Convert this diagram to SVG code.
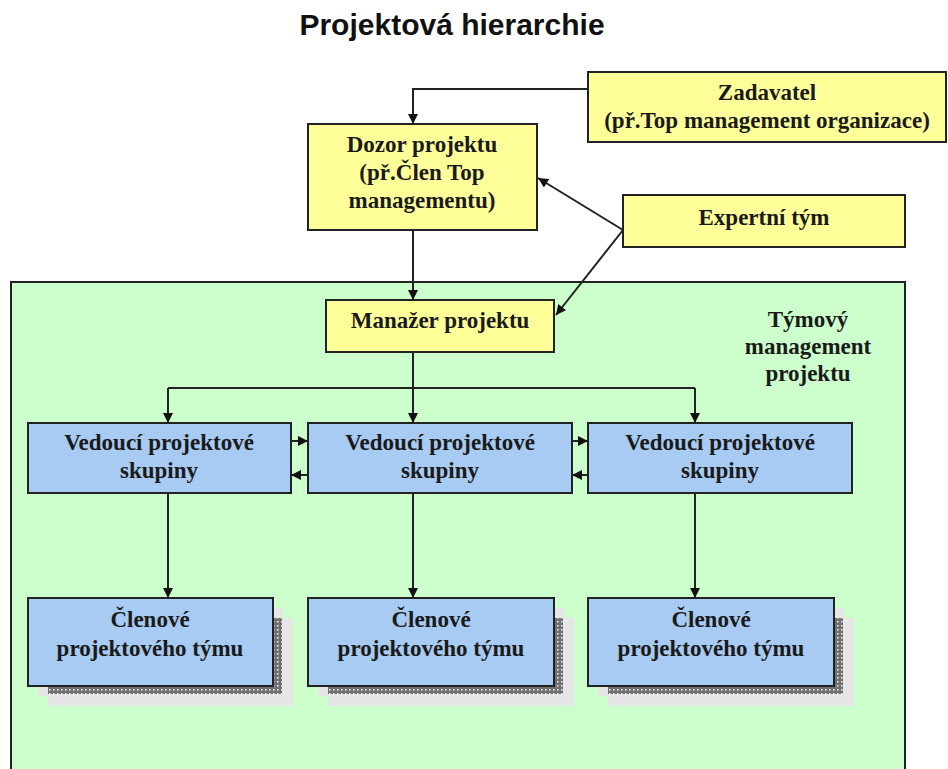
<svg xmlns="http://www.w3.org/2000/svg" width="948" height="769" viewBox="0 0 948 769">
<style>
.t{font-family:"Liberation Serif","Times New Roman",serif;font-weight:bold;font-size:23px;fill:#1a1a1a;text-anchor:middle}
.y{fill:#FFFF99;stroke:#222;stroke-width:2}
.b{fill:#A7CBF2;stroke:#222;stroke-width:2}
.sh{fill:#E6E6E6}
.dk{fill:url(#dots)}
.c{fill:none;stroke:#222;stroke-width:2}
.ca{fill:none;stroke:#222;stroke-width:2;marker-end:url(#ah)}
</style>
<defs>
<marker id="ah" viewBox="0 0 10 10" refX="10" refY="5" markerWidth="11" markerHeight="10" markerUnits="userSpaceOnUse" orient="auto">
<path d="M0,0 L10,5 L0,10 z" fill="#111"/>
</marker>
<pattern id="dots" width="4" height="4" patternUnits="userSpaceOnUse">
<rect width="4" height="4" fill="#707070"/>
<rect x="1" y="1" width="1.5" height="1.5" fill="#f4f4f4"/>
</pattern>
</defs>
<rect width="948" height="769" fill="#fff"/>
<text x="452" y="35" style="font-family:'Liberation Sans',Arial,sans-serif;font-weight:bold;font-size:30px;text-anchor:middle;fill:#111">Projektová hierarchie</text>

<g id="team-area">
<rect x="11" y="282" width="894" height="500" fill="#CCFFCC" stroke="#222" stroke-width="2"/>
<text class="t" x="808" y="327">Týmový</text>
<text class="t" x="808" y="354">management</text>
<text class="t" x="808" y="381">projektu</text>
</g>

<g id="zadavatel">
<rect class="y" x="588" y="72" width="358" height="70"/>
<text class="t" x="767" y="100">Zadavatel</text>
<text class="t" x="767" y="128">(př.Top management organizace)</text>
</g>

<g id="dozor">
<rect class="y" x="308" y="124" width="229" height="106"/>
<text class="t" x="422" y="152">Dozor projektu</text>
<text class="t" x="422" y="180">(př.Člen Top</text>
<text class="t" x="422" y="208">managementu)</text>
</g>

<g id="expertni">
<rect class="y" x="623" y="195" width="282" height="52"/>
<text class="t" x="764" y="225">Expertní tým</text>
</g>

<g id="manazer">
<rect class="y" x="326" y="300" width="228" height="52"/>
<text class="t" x="440" y="328">Manažer projektu</text>
</g>

<g id="vedouci1">
<rect class="b" x="28" y="423" width="263" height="70"/>
<text class="t" x="159" y="450">Vedoucí projektové</text>
<text class="t" x="159" y="478">skupiny</text>
</g>
<g id="vedouci2">
<rect class="b" x="308" y="423" width="264" height="70"/>
<text class="t" x="440" y="450">Vedoucí projektové</text>
<text class="t" x="440" y="478">skupiny</text>
</g>
<g id="vedouci3">
<rect class="b" x="588" y="423" width="264" height="70"/>
<text class="t" x="720" y="450">Vedoucí projektové</text>
<text class="t" x="720" y="478">skupiny</text>
</g>

<g id="clenove1">
<rect class="sh" x="48" y="618" width="245" height="88"/>
<rect class="sh" x="38" y="608" width="245" height="88"/>
<rect class="dk" x="48" y="618" width="234" height="76"/>
<rect class="b" x="28" y="598" width="245" height="88"/>
<text class="t" x="150" y="627">Členové</text>
<text class="t" x="150" y="656">projektového týmu</text>
</g>
<g id="clenove2">
<rect class="sh" x="328" y="618" width="246" height="88"/>
<rect class="sh" x="318" y="608" width="246" height="88"/>
<rect class="dk" x="328" y="618" width="235" height="76"/>
<rect class="b" x="308" y="598" width="246" height="88"/>
<text class="t" x="431" y="627">Členové</text>
<text class="t" x="431" y="656">projektového týmu</text>
</g>
<g id="clenove3">
<rect class="sh" x="608" y="618" width="246" height="88"/>
<rect class="sh" x="598" y="608" width="246" height="88"/>
<rect class="dk" x="608" y="618" width="235" height="76"/>
<rect class="b" x="588" y="598" width="246" height="88"/>
<text class="t" x="711" y="627">Členové</text>
<text class="t" x="711" y="656">projektového týmu</text>
</g>

<g id="connectors">
<polyline class="ca" points="588,89 413,89 413,124"/>
<line class="ca" x1="413" y1="230" x2="413" y2="300"/>
<line class="ca" x1="623" y1="230" x2="538" y2="178"/>
<line class="ca" x1="623" y1="230" x2="556" y2="315"/>
<line class="c" x1="413" y1="352" x2="413" y2="388"/>
<line class="c" x1="168" y1="388" x2="695" y2="388"/>
<line class="ca" x1="168" y1="388" x2="168" y2="423"/>
<line class="ca" x1="413" y1="388" x2="413" y2="423"/>
<line class="ca" x1="695" y1="388" x2="695" y2="423"/>
<line class="ca" x1="291" y1="441" x2="308" y2="441"/>
<line class="ca" x1="308" y1="475" x2="291" y2="475"/>
<line class="ca" x1="572" y1="441" x2="588" y2="441"/>
<line class="ca" x1="588" y1="475" x2="572" y2="475"/>
<line class="ca" x1="168" y1="493" x2="168" y2="598"/>
<line class="ca" x1="413" y1="493" x2="413" y2="598"/>
<line class="ca" x1="695" y1="493" x2="695" y2="598"/>
</g>
</svg>
